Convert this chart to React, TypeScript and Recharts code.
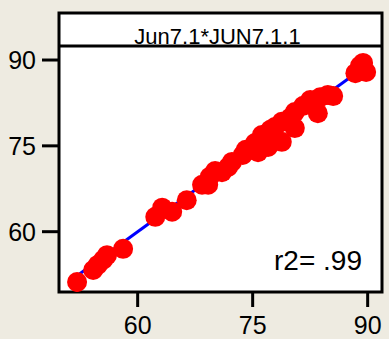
import { ScatterChart, Scatter, XAxis, YAxis, CartesianGrid, Customized } from 'recharts';

const xTicks = [60, 75, 90];
const yTicks = [60, 75, 90];

const xVals = [
  52.1, 54.2, 54.8, 55.5, 56.0, 58.1, 62.3, 63.2, 64.5, 66.4,
  68.4, 69.2, 69.4, 70.1, 71.0, 71.8, 72.3, 73.7, 74.1, 75.3,
  75.7, 76.2, 77.0, 77.3, 77.9, 78.8, 78.8, 79.9, 80.5, 80.5,
  81.6, 82.5, 83.5, 83.8, 84.8, 85.5, 88.4, 89.0, 89.8, 89.4,
];
const yVals = [
  51.2, 53.3, 54.2, 55.1, 55.9, 57.0, 62.6, 64.2, 63.5, 65.5,
  68.2, 68.2, 69.6, 70.6, 70.4, 71.3, 72.2, 73.4, 74.3, 75.5,
  73.9, 76.9, 74.8, 77.8, 78.3, 75.7, 79.2, 79.9, 78.1, 80.9,
  82.0, 83.0, 80.7, 83.5, 83.9, 83.7, 87.7, 89.0, 87.9, 89.5,
];

// fitted line end points
const fitX = [52.1, 89.8];
const fitY = [52.3, 89.0];

const title = 'Jun7.1*JUN7.1.1';
const r2Label = 'r2= .99';

const points = xVals.map((x, i) => ({ x, y: yVals[i] }));
const fitLine = fitX.map((x, i) => ({ x, y: fitY[i] }));

const tickFont = '"Liberation Sans Narrow", "Liberation Sans", Arial, sans-serif';
const textFont = '"Liberation Sans", Arial, sans-serif';

const L = 59;
const R = 382;
const T = 13;
const S = 46;
const B = 292;

function Frame() {
  return (
    <g>
      <rect x={L} y={T} width={R - L} height={S - T} fill="#fff" />
      <text x={(L + R) / 2 - 3} y={44} textAnchor="middle" fontSize={22} fontFamily={textFont} fill="#000">
        {title}
      </text>
      <line x1={L} x2={R} y1={S} y2={S} stroke="#000" strokeWidth={3} />
      <rect x={L} y={T} width={R - L} height={B - T} fill="none" stroke="#000" strokeWidth={3} />
      <text x={362} y={270} textAnchor="end" fontSize={28} fontFamily={textFont} fill="#000">
        {r2Label}
      </text>
    </g>
  );
}

const Dot = (props: any) => <circle cx={props.cx} cy={props.cy} r={10} fill="#ff0000" />;

export default function App() {
  return (
    <div style={{ position: 'absolute', left: 0, top: 0, width: 389, height: 339, background: '#eeebe1' }}>
      <ScatterChart width={389} height={339} margin={{ top: S, right: 389 - R, bottom: 0, left: 0 }}>
        <CartesianGrid horizontal={false} vertical={false} fill="#fff" />
        <XAxis
          type="number"
          dataKey="x"
          domain={[49.74, 91.87]}
          ticks={xTicks}
          allowDataOverflow
          height={339 - B}
          axisLine={false}
          tickLine={{ stroke: '#000', strokeWidth: 3 }}
          tickSize={15}
          tickMargin={9}
          tick={{ fill: '#000', fontSize: 25, fontFamily: tickFont }}
        />
        <YAxis
          type="number"
          dataKey="y"
          domain={[49.46, 92.45]}
          ticks={yTicks}
          allowDataOverflow
          width={L}
          axisLine={false}
          tickLine={{ stroke: '#000', strokeWidth: 3 }}
          tickSize={17}
          tickMargin={6}
          tick={{ fill: '#000', fontSize: 25, fontFamily: tickFont }}
        />
        <Scatter
          data={fitLine}
          line={{ stroke: '#0000ff', strokeWidth: 3 }}
          shape={() => <g />}
          isAnimationActive={false}
        />
        <Scatter data={points} shape={Dot} isAnimationActive={false} />
        <Customized component={Frame} />
      </ScatterChart>
    </div>
  );
}
